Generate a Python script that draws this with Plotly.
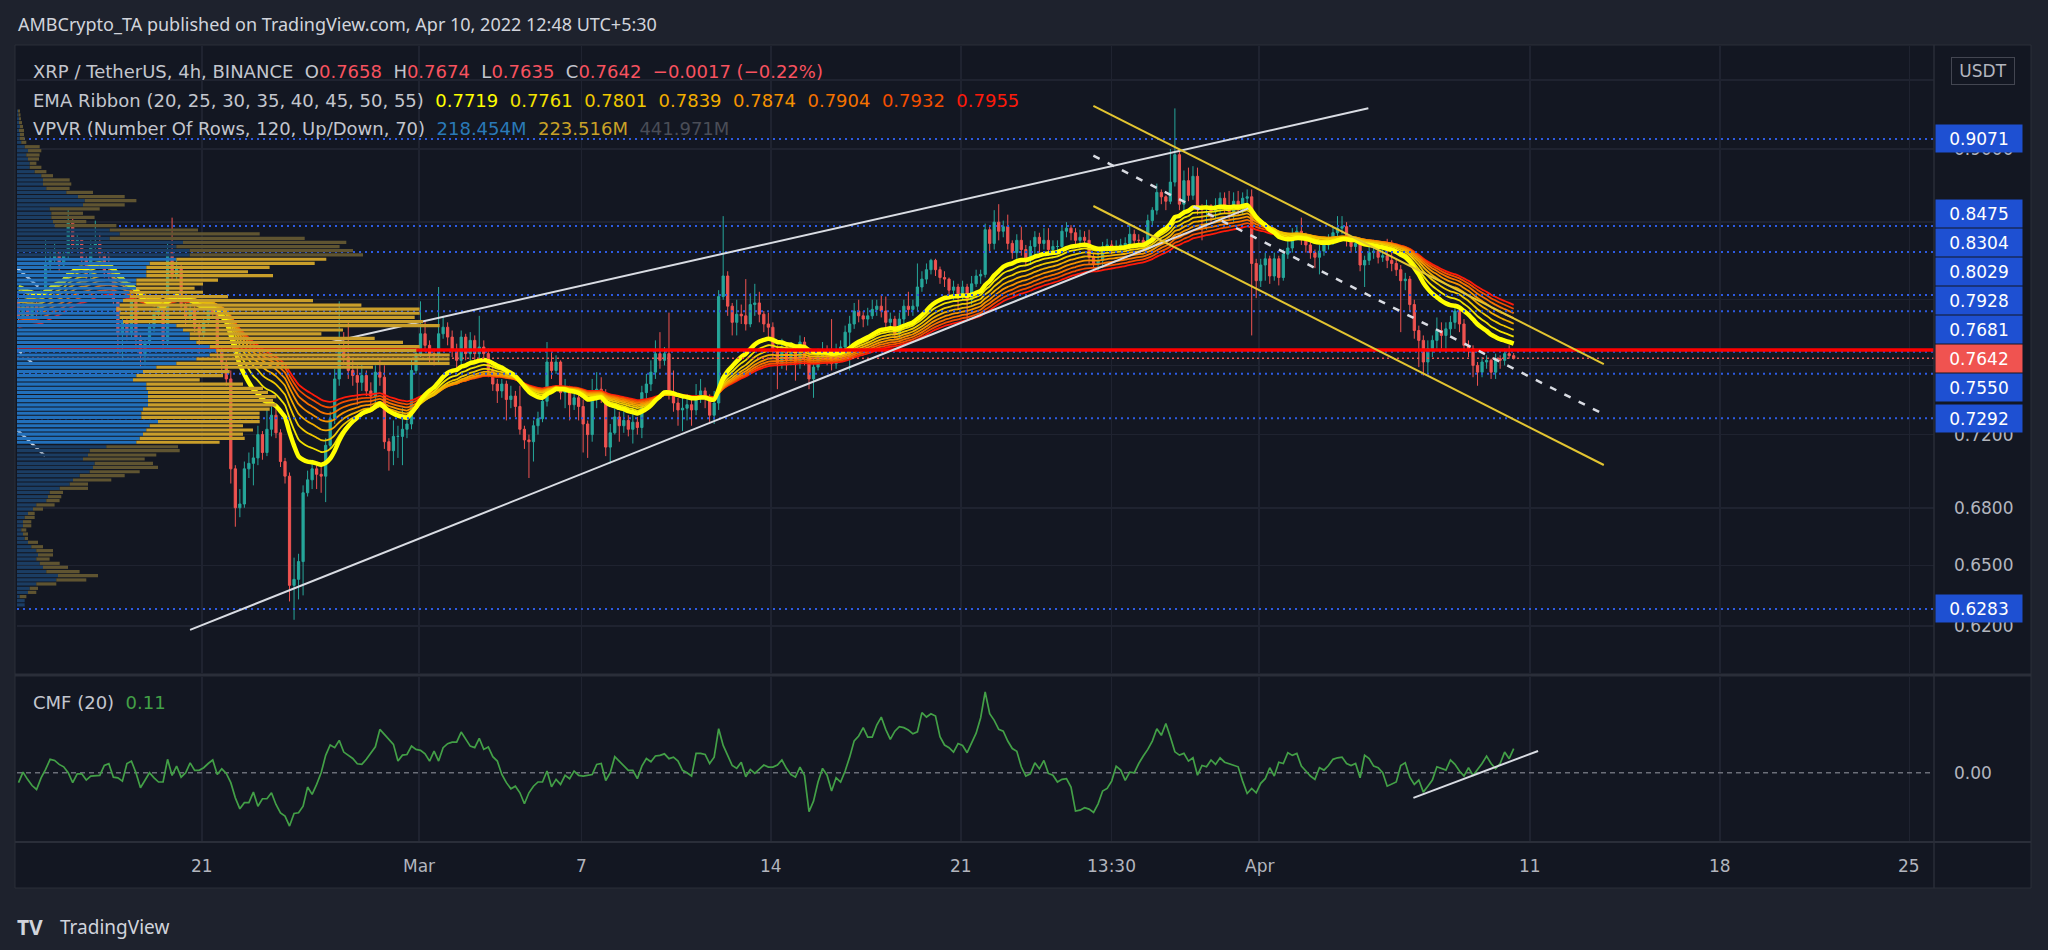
import math
from datetime import datetime, timedelta
import plotly.graph_objects as go

# ------------------------------------------------------------------ data
START = datetime(2022, 2, 14, 1, 30)      # first 4h candle shown is START + 4h
BAR_HOURS = 4
OPEN_FIRST = 0.800

CLOSE = [
    .790, .796, .790, .797, .792, .803, .822, .826, .830, .822,
    .829, .851, .834, .838, .826, .815, .834, .836, .828, .817,
    .816, .800, .779, .787, .779, .800, .777, .767, .774, .783,
    .791, .798, .775, .831, .815, .820, .796, .790, .794, .783,
    .779, .787, .796, .792, .769, .761, .752, .701, .680, .682,
    .701, .704, .707, .720, .710, .723, .731, .721, .705, .697,
    .640, .643, .652, .688, .695, .701, .698, .697, .714, .729,
    .752, .771, .765, .757, .754, .750, .754, .745, .742, .756,
    .753, .716, .711, .719, .719, .723, .726, .757, .767, .779,
    .772, .767, .766, .779, .783, .777, .769, .763, .777, .767,
    .775, .767, .771, .767, .757, .749, .745, .749, .740, .742,
    .736, .723, .717, .716, .725, .729, .739, .762, .757, .762,
    .744, .745, .737, .741, .736, .726, .720, .744, .746, .744,
    .713, .721, .730, .725, .728, .723, .727, .724, .744, .749,
    .756, .767, .763, .767, .744, .738, .734, .735, .737, .734,
    .741, .745, .741, .731, .738, .802, .815, .796, .786, .791,
    .790, .785, .797, .798, .791, .785, .783, .769, .761, .771,
    .763, .769, .761, .774, .765, .752, .759, .765, .769, .765,
    .761, .769, .771, .780, .785, .793, .790, .788, .790, .794,
    .796, .793, .786, .788, .779, .788, .796, .794, .796, .808,
    .813, .819, .825, .819, .814, .813, .806, .808, .802, .808,
    .800, .810, .815, .816, .845, .836, .850, .844, .847, .836,
    .830, .838, .832, .826, .834, .840, .836, .838, .832, .834,
    .834, .844, .846, .843, .838, .840, .838, .827, .823, .825,
    .834, .835, .833, .834, .835, .836, .842, .838, .838, .836,
    .851, .858, .870, .867, .864, .877, .896, .862, .878, .868,
    .881, .859, .859, .861, .857, .861, .866, .861, .857, .864,
    .859, .866, .867, .823, .812, .822, .826, .815, .826, .814,
    .829, .833, .842, .844, .839, .835, .830, .827, .831, .835,
    .837, .843, .846, .847, .838, .834, .836, .822, .825, .830,
    .831, .827, .828, .825, .823, .819, .812, .813, .797, .781,
    .775, .762, .770, .775, .781, .778, .782, .786, .793, .785,
    .772, .770, .760, .756, .762, .763, .756, .764, .763, .767,
    .7658, .7642,
]
HIGH = [
    .802, .800, .798, .800, .799, .806, .838, .832, .836, .832,
    .832, .858, .853, .842, .840, .828, .838, .851, .843, .830,
    .830, .818, .800, .790, .789, .804, .802, .779, .776, .786,
    .795, .802, .800, .837, .853, .825, .822, .798, .798, .796,
    .786, .790, .800, .800, .795, .772, .764, .757, .703, .690,
    .705, .710, .713, .725, .722, .735, .736, .735, .723, .707,
    .699, .654, .656, .692, .700, .706, .703, .703, .718, .733,
    .758, .799, .780, .786, .763, .760, .762, .757, .750, .760,
    .764, .760, .718, .728, .725, .735, .730, .764, .771, .799,
    .787, .775, .770, .808, .790, .786, .781, .773, .781, .779,
    .780, .778, .790, .775, .770, .760, .752, .752, .751, .748,
    .745, .748, .725, .720, .728, .733, .742, .774, .768, .766,
    .763, .752, .748, .745, .745, .740, .728, .752, .756, .753,
    .746, .726, .736, .733, .734, .731, .735, .730, .748, .755,
    .763, .775, .780, .771, .792, .757, .741, .742, .743, .740,
    .749, .752, .747, .743, .745, .806, .854, .818, .798, .800,
    .797, .813, .804, .810, .805, .793, .792, .786, .772, .776,
    .774, .774, .772, .778, .777, .767, .764, .770, .774, .772,
    .788, .773, .775, .784, .790, .798, .800, .793, .795, .800,
    .800, .803, .802, .792, .790, .792, .800, .805, .800, .823,
    .818, .823, .826, .826, .821, .818, .814, .812, .810, .812,
    .810, .815, .819, .819, .849, .848, .858, .862, .851, .855,
    .838, .842, .847, .835, .838, .844, .843, .846, .846, .838,
    .838, .848, .850, .848, .846, .845, .844, .845, .830, .829,
    .837, .839, .838, .838, .839, .840, .848, .845, .842, .840,
    .855, .860, .876, .872, .868, .900, .929, .900, .885, .887,
    .888, .887, .862, .865, .862, .866, .870, .870, .871, .870,
    .871, .870, .872, .872, .826, .826, .830, .828, .830, .828,
    .832, .838, .846, .848, .853, .843, .838, .832, .835, .838,
    .842, .847, .854, .854, .850, .840, .840, .838, .828, .835,
    .835, .833, .832, .839, .838, .826, .822, .817, .815, .800,
    .784, .778, .775, .778, .789, .786, .786, .790, .796, .795,
    .788, .775, .772, .762, .765, .766, .764, .767, .766, .770,
    .772, .7674,
]
LOW = [
    .786, .788, .786, .787, .786, .790, .803, .818, .822, .818,
    .820, .826, .830, .832, .822, .812, .812, .830, .826, .814,
    .813, .797, .766, .763, .775, .776, .770, .759, .760, .771,
    .780, .788, .770, .772, .812, .812, .793, .785, .786, .780,
    .767, .776, .785, .788, .764, .757, .748, .693, .670, .675,
    .680, .696, .692, .703, .706, .708, .719, .718, .702, .693,
    .632, .623, .633, .635, .686, .690, .690, .688, .683, .712,
    .726, .748, .760, .752, .748, .737, .745, .742, .735, .735,
    .748, .712, .700, .703, .707, .703, .718, .723, .755, .765,
    .768, .762, .760, .762, .776, .772, .765, .757, .760, .763,
    .763, .762, .764, .763, .753, .745, .738, .741, .728, .735,
    .730, .720, .712, .696, .705, .720, .727, .736, .752, .755,
    .740, .735, .728, .734, .728, .710, .707, .716, .735, .738,
    .708, .704, .720, .716, .721, .719, .715, .720, .718, .738,
    .745, .752, .758, .760, .740, .733, .725, .722, .728, .725,
    .731, .738, .735, .727, .726, .734, .800, .790, .778, .778,
    .785, .781, .783, .790, .786, .780, .777, .765, .746, .758,
    .757, .760, .751, .758, .760, .746, .741, .757, .763, .760,
    .757, .758, .764, .768, .757, .782, .786, .783, .784, .788,
    .790, .789, .782, .782, .776, .776, .785, .790, .790, .793,
    .805, .810, .816, .815, .810, .808, .802, .800, .794, .800,
    .788, .797, .808, .810, .814, .830, .832, .838, .840, .832,
    .826, .826, .828, .822, .822, .828, .830, .832, .828, .830,
    .830, .832, .840, .838, .834, .834, .834, .822, .820, .818,
    .820, .830, .829, .830, .831, .832, .832, .833, .834, .832,
    .833, .848, .855, .862, .858, .862, .874, .858, .855, .864,
    .865, .855, .838, .845, .850, .852, .856, .856, .852, .850,
    .855, .855, .860, .778, .801, .808, .812, .810, .812, .809,
    .812, .826, .830, .838, .835, .830, .826, .820, .816, .828,
    .832, .835, .840, .842, .834, .830, .830, .818, .808, .822,
    .826, .823, .824, .820, .818, .815, .780, .806, .793, .776,
    .759, .754, .755, .765, .770, .770, .770, .778, .782, .780,
    .768, .765, .753, .748, .753, .758, .752, .752, .758, .760,
    .764, .7635,
]
CMF = [
    -0.045, 0.003, -0.030, -0.058, -0.076, -0.023, 0.015, 0.061, 0.056, 0.038,
    0.027, 0.000, -0.045, -0.005, -0.005, -0.033, -0.015, -0.012, -0.012, 0.033,
    0.041, -0.020, -0.023, -0.038, 0.042, 0.053, 0.000, -0.068, -0.033, 0.000,
    -0.023, -0.042, -0.042, 0.061, -0.012, 0.030, -0.020, 0.000, 0.045, 0.011,
    0.011, 0.023, 0.042, 0.058, -0.008, 0.018, -0.003, -0.045, -0.114, -0.164,
    -0.136, -0.136, -0.088, -0.152, -0.118, -0.118, -0.091, -0.144, -0.182, -0.197,
    -0.242, -0.185, -0.182, -0.152, -0.065, -0.098, -0.053, 0.000, 0.079, 0.126,
    0.114, 0.147, 0.094, 0.080, 0.065, 0.041, 0.038, 0.061, 0.088, 0.118,
    0.197, 0.174, 0.152, 0.129, 0.053, 0.080, 0.083, 0.121, 0.106, 0.102,
    0.086, 0.053, 0.098, 0.053, 0.114, 0.132, 0.139, 0.139, 0.185, 0.152,
    0.121, 0.114, 0.156, 0.106, 0.117, 0.073, 0.053, -0.008, -0.045, -0.073,
    -0.061, -0.091, -0.141, -0.091, -0.061, -0.042, -0.042, 0.008, -0.064, -0.030,
    -0.053, -0.012, -0.027, 0.008, -0.012, -0.015, -0.011, -0.008, 0.038, 0.042,
    -0.035, 0.000, 0.073, 0.053, 0.030, 0.011, 0.011, -0.027, 0.030, 0.065,
    0.050, 0.076, 0.079, 0.086, 0.064, 0.071, 0.053, 0.011, 0.000, -0.015,
    0.088, 0.088, 0.083, 0.042, 0.071, 0.200, 0.124, 0.079, 0.033, 0.020,
    0.048, -0.018, 0.015, -0.003, 0.015, 0.035, 0.026, 0.026, 0.035, 0.058,
    0.020, -0.008, -0.020, 0.026, -0.012, -0.177, -0.129, -0.042, 0.020, -0.011,
    -0.083, -0.023, -0.042, 0.008, 0.071, 0.145, 0.167, 0.205, 0.162, 0.162,
    0.217, 0.253, 0.196, 0.152, 0.189, 0.209, 0.205, 0.194, 0.177, 0.186,
    0.273, 0.253, 0.268, 0.258, 0.164, 0.126, 0.114, 0.094, 0.133, 0.124,
    0.091, 0.139, 0.180, 0.250, 0.367, 0.268, 0.238, 0.197, 0.189, 0.144,
    0.110, 0.098, 0.027, -0.015, -0.005, 0.045, 0.018, 0.056, -0.003, -0.011,
    -0.042, -0.030, -0.027, -0.065, -0.174, -0.170, -0.159, -0.165, -0.180, -0.141,
    -0.083, -0.071, -0.038, 0.030, 0.012, -0.035, 0.003, 0.000, 0.042, 0.076,
    0.106, 0.144, 0.200, 0.170, 0.224, 0.162, 0.095, 0.080, 0.088, 0.053,
    0.068, -0.011, 0.033, 0.027, 0.058, 0.038, 0.068, 0.048, 0.042, 0.033,
    0.027, -0.038, -0.094, -0.071, -0.091, -0.048, -0.027, 0.023, -0.015, 0.048,
    0.042, 0.091, 0.079, 0.088, 0.030, 0.008, -0.015, -0.030, 0.023, 0.012,
    0.033, 0.061, 0.068, 0.071, 0.042, 0.033, 0.042, -0.023, 0.080, 0.064,
    0.030, 0.023, 0.000, -0.061, -0.053, -0.042, 0.033, 0.045, -0.020, -0.053,
    -0.033, -0.088, -0.061, -0.033, 0.027, 0.018, 0.012, 0.058, 0.038, 0.008,
    -0.015, 0.023, -0.012, 0.015, 0.042, 0.076, 0.042, 0.018, 0.042, 0.094,
    0.064, 0.110,
]

EMA_LENGTHS = [20, 25, 30, 35, 40, 45, 50, 55]
EMA_SEED = [0.810, 0.807, 0.803, 0.799, 0.795, 0.791, 0.787, 0.783]
EMA_COLORS = ['#ffff00', '#f2e200', '#f0c800', '#f2ad00', '#f59200', '#f57200', '#f24e00', '#ff1a0a']
EMA_LEGEND = ['0.7719', '0.7761', '0.7801', '0.7839', '0.7874', '0.7904', '0.7932', '0.7955']

# Volume profile (120 rows), top to bottom
VP_PRICE = [
    0.9271, 0.9243, 0.9215, 0.9187, 0.9159, 0.9131, 0.9103,
    0.9075, 0.9047, 0.9016, 0.8988, 0.8958, 0.8930, 0.8900, 0.8872, 0.8842, 0.8814,
    0.8785, 0.8757, 0.8727, 0.8700, 0.8671, 0.8644, 0.8615, 0.8588, 0.8559, 0.8532,
    0.8503, 0.8477, 0.8448, 0.8422, 0.8393, 0.8367, 0.8339, 0.8313, 0.8285, 0.8257,
    0.8231, 0.8205, 0.8177, 0.8152, 0.8124, 0.8099, 0.8072, 0.8047, 0.8019, 0.7994,
    0.7967, 0.7942, 0.7916, 0.7891, 0.7864, 0.7840, 0.7813, 0.7789, 0.7762, 0.7738,
    0.7712, 0.7688, 0.7662, 0.7638, 0.7612, 0.7589, 0.7563, 0.7539, 0.7514, 0.7490,
    0.7465, 0.7442, 0.7417, 0.7394, 0.7369, 0.7345, 0.7321, 0.7298, 0.7273, 0.7250,
    0.7226, 0.7203, 0.7179, 0.7157, 0.7132, 0.7110, 0.7086, 0.7064, 0.7040, 0.7018,
    0.6994, 0.6973, 0.6949, 0.6927, 0.6904, 0.6882, 0.6859, 0.6838, 0.6815, 0.6793,
    0.6770, 0.6749, 0.6726, 0.6705, 0.6683, 0.6662, 0.6639, 0.6619, 0.6596, 0.6576,
    0.6554, 0.6533, 0.6511, 0.6491, 0.6469, 0.6449, 0.6427, 0.6407, 0.6385, 0.6365,
    0.6344, 0.6324, 0.6303,
]
VP_UP = [
    1.0, 1.5, 2.0, 2.0, 3.0, 2.0, 3.0,
    2.7, 4.3, 7.7, 11.0, 9.3, 11.0, 12.7, 12.7, 17.7, 24.3,
    26.0, 26.0, 29.3, 49.3, 61.0, 67.7, 66.0, 32.7, 34.3, 34.3,
    36.0, 37.7, 92.7, 102.7, 92.7, 166.0, 159.3, 172.7, 172.7, 159.3,
    132.7, 129.3, 129.3, 129.3, 119.3, 119.3, 119.3, 112.7, 112.7, 106.0,
    102.7, 99.3, 102.7, 102.7, 106.0, 159.3, 166.0, 172.7, 172.7, 179.3,
    192.7, 199.3, 192.7, 179.3, 159.3, 139.3, 126.0, 119.3, 116.0, 129.3,
    129.3, 131.0, 131.0, 131.0, 131.0, 126.0, 124.3, 124.3, 141.0, 132.7,
    129.3, 126.0, 122.7, 119.3, 89.3, 72.7, 71.0, 66.0, 77.7, 76.0,
    72.7, 62.7, 56.0, 52.7, 42.7, 32.7, 31.0, 29.3, 19.3, 16.0,
    11.0, 7.7, 6.0, 6.0, 4.3, 6.0, 7.7, 11.0, 14.3, 19.3,
    21.0, 19.3, 22.7, 26.0, 29.3, 41.0, 39.3, 19.3, 12.7, 11.0,
    2.7, 7.7, 7.7,
]
VP_DOWN = [
    2.0, 2.0, 2.0, 3.0, 3.0, 5.0, 4.0,
    5.0, 5.0, 15.0, 13.3, 13.3, 11.0, 6.7, 11.7, 11.7, 11.7,
    26.7, 28.3, 23.3, 26.7, 46.7, 51.7, 41.7, 50.0, 31.7, 43.3,
    33.3, 61.7, 88.3, 140.0, 195.0, 163.3, 163.3, 163.3, 173.3, 150.0,
    165.0, 123.3, 101.7, 126.7, 81.7, 66.7, 58.3, 73.3, 98.3, 190.0,
    241.7, 303.3, 300.0, 295.0, 300.0, 263.3, 160.0, 131.7, 185.0, 206.7,
    210.0, 200.0, 240.0, 253.3, 273.3, 216.7, 86.7, 86.7, 66.7, 96.7,
    116.7, 120.0, 128.3, 125.0, 128.3, 126.7, 118.3, 118.3, 101.7, 93.3,
    106.7, 100.0, 105.0, 83.3, 71.7, 90.0, 68.3, 61.7, 58.3, 65.0,
    50.0, 45.0, 38.3, 18.3, 28.3, 13.3, 13.3, 13.3, 18.3, 10.0,
    6.7, 10.0, 8.3, 8.3, 5.0, 5.0, 3.3, 10.0, 11.7, 16.7,
    15.0, 13.3, 20.0, 25.0, 33.3, 40.0, 30.0, 20.0, 8.3, 8.3,
    6.7, 0.0, 0.0,
]
VA_LOW, VA_HIGH = 0.714, 0.827
VPVR_TOTALS = ['218.454M', '223.516M', '441.971M']

LEVELS = [0.9071, 0.8475, 0.8304, 0.8029, 0.7928, 0.7681, 0.7550, 0.7292, 0.6283]
LAST_PRICE = 0.7642
RED_LINE = 0.7692
OHLC_LEGEND = ['0.7658', '0.7674', '0.7635', '0.7642', '\u22120.0017 (\u22120.22%)']
CMF_LAST = '0.11'

PRICE_TICKS = [0.62, 0.65, 0.68, 0.72, 0.76, 0.80, 0.85, 0.90, 0.95]
PRICE_TICK_TEXT = ['0.6200', '0.6500', '0.6800', '0.7200', '', '', '', '0.9000', '']  # others hidden by labels
TIME_TICKS = [
    ('2022-02-21 00:00', '21'), ('2022-03-01 00:00', 'Mar'), ('2022-03-07 00:00', '7'),
    ('2022-03-14 00:00', '14'), ('2022-03-21 00:00', '21'), ('2022-03-26 13:30', '13:30'),
    ('2022-04-01 00:00', 'Apr'), ('2022-04-11 00:00', '11'), ('2022-04-18 00:00', '18'),
    ('2022-04-25 00:00', '25'),
]

# drawings (time, value) pairs
WEDGE_UPPER = (['2022-02-25 15:48', '2022-04-05 00:48'], [0.7736, 0.9291])
WEDGE_LOWER = (['2022-02-20 13:24', '2022-03-31 14:30'], [0.6181, 0.8592])
CH_TIMES = ['2022-03-25 21:18', '2022-04-13 17:18']
CH_UPPER = (CH_TIMES, [0.9309, 0.7608])
CH_MID = (CH_TIMES, [0.8953, 0.7315])
CH_LOWER = (CH_TIMES, [0.8608, 0.7031])
OLD_UPPER = (['2022-02-14 04:25', '2022-02-14 23:00'], [0.8199, 0.8082])
OLD_MID = (['2022-02-14 04:25', '2022-02-14 21:36'], [0.7696, 0.7590])
OLD_LOWER = (['2022-02-14 04:25', '2022-02-15 05:00'], [0.7226, 0.7081])
CMF_TREND = (['2022-04-06 16:42', '2022-04-11 07:06'], [-0.114, 0.099])

X_RANGE = ['2022-02-14 04:10', '2022-04-25 21:42']
Y_TOP, Y_BOTTOM = 0.97541, 0.59764
CMF_RANGE = [-0.310, 0.435]

# ------------------------------------------------------------------ layout constants
FIG_W, FIG_H = 2048, 950
PANE_L, PANE_R = 17, 1934
MAIN_T, MAIN_B = 46, 673
CMF_T, CMF_B = 677, 841
FRAME = (15, 45, 2031, 888)
FONT = 'DejaVu Sans, Noto Sans, sans-serif'
HFONT = 'Noto Sans, DejaVu Sans, sans-serif'
BG_PAGE, BG_CHART = '#1e222d', '#131722'
GRID, BORDER, TXT = '#1f2330', '#2a2e39', '#b2b5be'
LEG_TXT = '#c3c6ce'
UP_C, DN_C = '#26a69a', '#ef5350'
BLUE_BOX, RED_BOX = '#1e50d2', '#f05350'
LEVEL_C = '#2d5be3'


def px_x(px):
    return px / FIG_W


def px_y(py):
    return 1 - py / FIG_H


# ------------------------------------------------------------------ series
n = min(len(CLOSE), len(HIGH), len(LOW))
times = [START + timedelta(hours=BAR_HOURS * (i + 1)) for i in range(n)]
close = CLOSE[:n]
opens = [OPEN_FIRST] + close[:-1]
high = [max(h, o, c) for h, o, c in zip(HIGH[:n], opens, close)]
low = [min(l, o, c) for l, o, c in zip(LOW[:n], opens, close)]
cmf_times = [START + timedelta(hours=BAR_HOURS * (i + 1)) for i in range(len(CMF))]


def ema(values, length, seed):
    a = 2.0 / (length + 1)
    out, prev = [], seed
    for v in values:
        prev = a * v + (1 - a) * prev
        out.append(prev)
    return out


fig = go.Figure()

# volume profile rows (on an overlay x axis measured in volume units)
groups = {('va', 'up'): ([], []), ('va', 'dn'): ([], []), ('out', 'up'): ([], []), ('out', 'dn'): ([], [])}
for p, u, d in zip(VP_PRICE, VP_UP, VP_DOWN):
    zone = 'va' if VA_LOW <= p <= VA_HIGH else 'out'
    xs, ys = groups[(zone, 'up')]
    xs += [0, u, None]
    ys += [p, p, None]
    if d > 0:
        xs, ys = groups[(zone, 'dn')]
        xs += [u, u + d, None]
        ys += [p, p, None]
vp_colors = {('va', 'up'): '#2270bb', ('va', 'dn'): '#c99e2a',
             ('out', 'up'): '#1b3d63', ('out', 'dn'): '#5f5431'}
for key, (xs, ys) in groups.items():
    fig.add_trace(go.Scatter(x=xs, y=ys, mode='lines', xaxis='x2', yaxis='y',
                             line=dict(color=vp_colors[key], width=3.2),
                             hoverinfo='skip', showlegend=False, connectgaps=False))

# candles
fig.add_trace(go.Candlestick(
    x=times, open=opens, high=high, low=low, close=close, xaxis='x', yaxis='y',
    increasing=dict(line=dict(color=UP_C, width=1), fillcolor=UP_C),
    decreasing=dict(line=dict(color=DN_C, width=1), fillcolor=DN_C),
    whiskerwidth=0, showlegend=False, hoverinfo='skip'))

# EMA ribbon (slowest first, EMA20 on top)
for length, seed, col in reversed(list(zip(EMA_LENGTHS, EMA_SEED, EMA_COLORS))):
    fig.add_trace(go.Scatter(x=times, y=ema(close, length, seed), mode='lines', xaxis='x', yaxis='y',
                             line=dict(color=col, width=4.5 if length == 20 else 1.8, shape='spline', smoothing=0.6),
                             hoverinfo='skip', showlegend=False))


def hline(price, color, width, dash='solid'):
    fig.add_trace(go.Scatter(x=X_RANGE, y=[price, price], mode='lines', xaxis='x', yaxis='y',
                             line=dict(color=color, width=width, dash=dash),
                             hoverinfo='skip', showlegend=False))


for lv in LEVELS:
    hline(lv, LEVEL_C, 2, '2px,4px')
hline(LAST_PRICE, RED_BOX, 1.5, '2px,3px')
hline(RED_LINE, '#ff0000', 3.5)


def seg(pair, color, width, dash='solid', yaxis='y', xaxis='x'):
    fig.add_trace(go.Scatter(x=pair[0], y=pair[1], mode='lines', xaxis=xaxis, yaxis=yaxis,
                             line=dict(color=color, width=width, dash=dash),
                             hoverinfo='skip', showlegend=False))


WHITE, YELLOW = '#d9dce3', '#e3c531'
seg(WEDGE_UPPER, WHITE, 2)
seg(WEDGE_LOWER, WHITE, 2)
seg(CH_UPPER, YELLOW, 2)
seg(CH_LOWER, YELLOW, 2)
seg(CH_MID, WHITE, 2.5, '7px,9px')
seg(OLD_UPPER, WHITE, 2.5)
seg(OLD_MID, WHITE, 2.5, '6px,8px')
seg(OLD_LOWER, WHITE, 2.5)

# CMF pane
seg((X_RANGE, [0, 0]), '#6b6e78', 1.6, '5px,4px', yaxis='y2', xaxis='x3')
fig.add_trace(go.Scatter(x=cmf_times, y=CMF, mode='lines', xaxis='x3', yaxis='y2',
                         line=dict(color='#43a047', width=1.7), hoverinfo='skip', showlegend=False))
seg(CMF_TREND, WHITE, 2, yaxis='y2', xaxis='x3')

# ------------------------------------------------------------------ layout
tick_dates = [t for t, _ in TIME_TICKS]
axis_font = dict(family=FONT, size=17, color=TXT)
fig.update_layout(
    width=FIG_W, height=FIG_H, margin=dict(l=0, r=0, t=0, b=0),
    paper_bgcolor=BG_PAGE, plot_bgcolor='rgba(0,0,0,0)',
    font=dict(family=FONT, color=TXT), showlegend=False, hovermode=False,
    xaxis=dict(domain=[px_x(PANE_L), px_x(PANE_R)], anchor='y', type='date', range=X_RANGE,
               rangeslider=dict(visible=False), showticklabels=False, tickvals=tick_dates,
               showgrid=True, gridcolor=GRID, gridwidth=1.5, zeroline=False, fixedrange=True),
    xaxis2=dict(overlaying='x', anchor='y', type='linear', range=[0, PANE_R - PANE_L],
                visible=False, fixedrange=True),
    xaxis3=dict(domain=[px_x(PANE_L), px_x(PANE_R)], anchor='y2', type='date', matches='x',
                showticklabels=False, tickvals=tick_dates, showgrid=True, gridcolor=GRID,
                gridwidth=1.5, zeroline=False, fixedrange=True),
    yaxis=dict(domain=[px_y(MAIN_B), px_y(MAIN_T)], anchor='x', type='log',
               range=[math.log10(Y_BOTTOM), math.log10(Y_TOP)], side='right',
               tickvals=PRICE_TICKS, ticktext=PRICE_TICK_TEXT,
               tickfont=axis_font, ticks='', ticklabelstandoff=19,
               showgrid=True, gridcolor=GRID, gridwidth=1.5, zeroline=False, fixedrange=True),
    yaxis2=dict(domain=[px_y(CMF_B), px_y(CMF_T)], anchor='x3', range=CMF_RANGE, side='right',
                tickvals=[0], ticktext=['0.00'], tickfont=axis_font, ticks='', ticklabelstandoff=19,
                showgrid=False, zeroline=False, fixedrange=True),
)

shapes = [
    dict(type='rect', xref='paper', yref='paper', x0=px_x(FRAME[0]), x1=px_x(FRAME[2]),
         y0=px_y(FRAME[3]), y1=px_y(FRAME[1]), fillcolor=BG_CHART, line=dict(color=BORDER, width=1),
         layer='below'),
    dict(type='line', xref='paper', yref='paper', x0=px_x(FRAME[0]), x1=px_x(FRAME[2]),
         y0=px_y(675), y1=px_y(675), line=dict(color=BORDER, width=3), layer='above'),
    dict(type='line', xref='paper', yref='paper', x0=px_x(FRAME[0]), x1=px_x(FRAME[2]),
         y0=px_y(842), y1=px_y(842), line=dict(color=BORDER, width=2), layer='above'),
    dict(type='line', xref='paper', yref='paper', x0=px_x(PANE_R), x1=px_x(PANE_R),
         y0=px_y(FRAME[1]), y1=px_y(FRAME[3]), line=dict(color=BORDER, width=1.5), layer='above'),
]
fig.update_layout(shapes=shapes)

ann = []


def text(x, y, s, size=17, color=TXT, anchor='left', family=FONT, **kw):
    d = dict(x=px_x(x), y=px_y(y), xref='paper', yref='paper', text=s, showarrow=False,
             xanchor=anchor, yanchor='middle', font=dict(family=family, size=size, color=color))
    d.update(kw)
    ann.append(d)


NB = '\u00a0'
RED_T = '#f7525f'
text(16, 24, 'AMBCrypto_TA published on TradingView.com, Apr 10, 2022 12:48 UTC+5:30', 18, '#d1d4dc',
     family=HFONT)
ohlc = ''.join(f"{NB}{NB}{k}<span style='color:{RED_T}'>{v}</span>"
               for k, v in zip(['O', 'H', 'L', 'C'], OHLC_LEGEND[:4]))
text(31, 72, f"XRP / TetherUS, 4h, BINANCE{ohlc}{NB}{NB}<span style='color:{RED_T}'>{OHLC_LEGEND[4]}</span>",
     18, LEG_TXT)
ema_txt = ''.join(f"{NB}{NB}<span style='color:{c}'>{v}</span>" for c, v in zip(EMA_COLORS, EMA_LEGEND))
text(31, 100, 'EMA Ribbon (20, 25, 30, 35, 40, 45, 50, 55)' + ema_txt, 18, LEG_TXT)
vp_cols = ['#2a7ab8', '#c9a227', '#4a4d57']
vp_txt = ''.join(f"{NB}{NB}<span style='color:{c}'>{v}</span>" for c, v in zip(vp_cols, VPVR_TOTALS))
text(31, 128, 'VPVR (Number Of Rows, 120, Up/Down, 70)' + vp_txt, 18, LEG_TXT)
text(31, 702, f"CMF (20){NB}{NB}<span style='color:#43a047'>{CMF_LAST}</span>", 18, LEG_TXT)

# time labels under the CMF pane
for t, lab in TIME_TICKS:
    ann.append(dict(x=t, y=px_y(866), xref='x', yref='paper', text=lab, showarrow=False,
                    xanchor='center', yanchor='middle', font=dict(family=FONT, size=17, color=TXT)))

# price labels on the right axis, stacked around the last-price label
LN_T, LN_B = math.log(Y_TOP), math.log(Y_BOTTOM)


def price_py(p):
    return MAIN_T + (LN_T - math.log(p)) / (LN_T - LN_B) * (MAIN_B - MAIN_T)


labels = [(p, BLUE_BOX) for p in LEVELS] + [(LAST_PRICE, RED_BOX)]
labels.sort(key=lambda t: price_py(t[0]))
true_y = [price_py(p) for p, _ in labels]
k = [p for p, _ in labels].index(LAST_PRICE)
LABEL_H = 29
pos = true_y[:]
for j in range(k - 1, -1, -1):
    pos[j] = min(true_y[j], pos[j + 1] - LABEL_H)
for j in range(k + 1, len(labels)):
    pos[j] = max(true_y[j], pos[j - 1] + LABEL_H)
for (p, col), y in zip(labels, pos):
    text(1935, y, f'{p:.4f}', 17, '#ffffff', bgcolor=col, width=84, height=25, borderpad=1,
         align='center')

# currency button and footer logo
text(1983, 71, 'USDT', 17, TXT, anchor='center', bgcolor=BG_CHART, bordercolor='#434651',
     borderwidth=1, borderpad=3, width=56)
text(15, 927, '<b>TV</b>', 21, '#d1d4dc', family=HFONT)
text(58, 927, 'TradingView', 19, '#d1d4dc', family=HFONT)

fig.update_layout(annotations=ann)
fig.write_html('out.html', include_plotlyjs=True, full_html=True,
               config=dict(displayModeBar=False, staticPlot=True))
